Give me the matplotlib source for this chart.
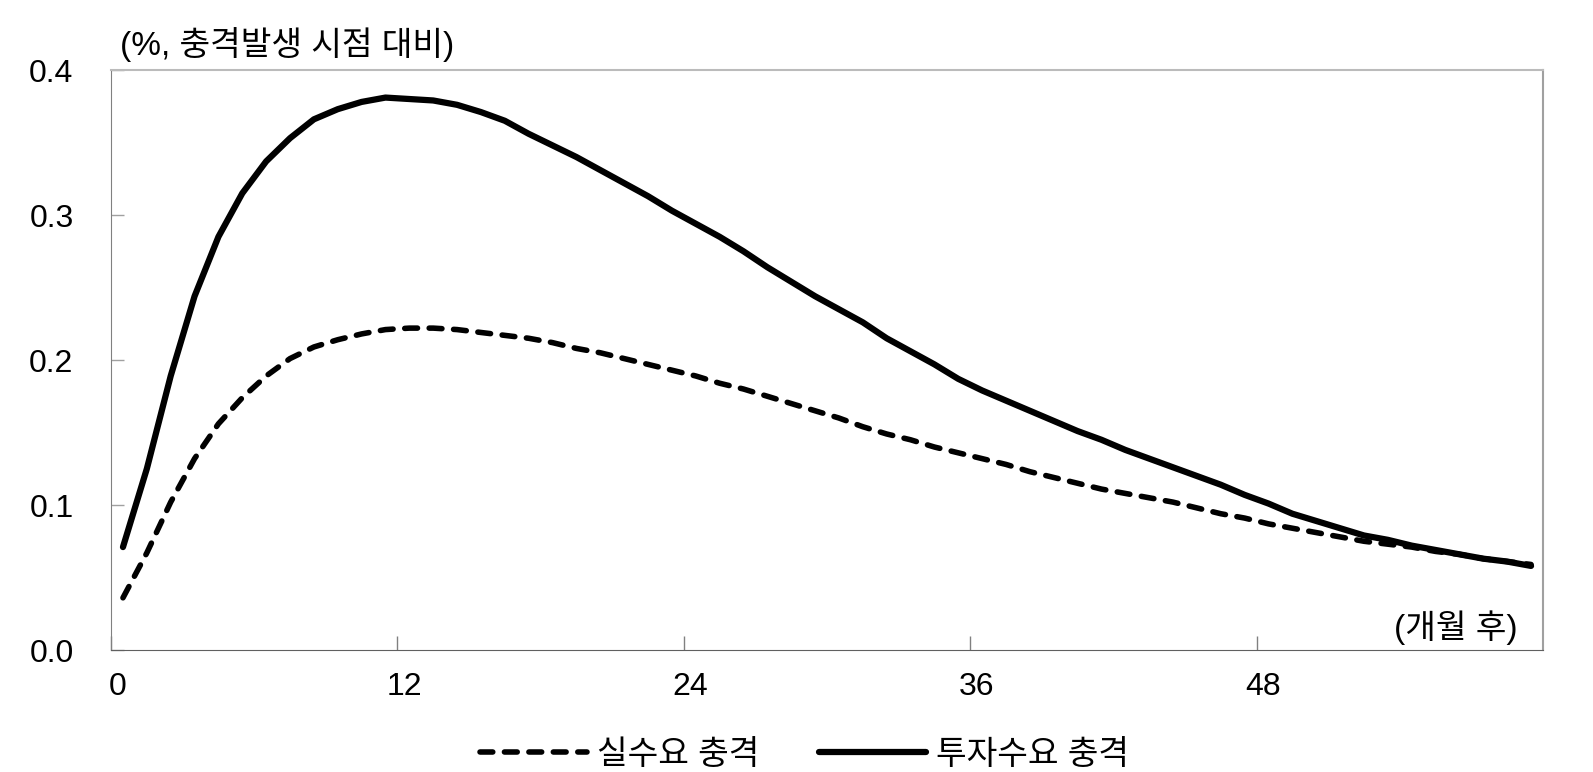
import numpy as np
import matplotlib
matplotlib.use("Agg")
import matplotlib.pyplot as plt
from matplotlib.ticker import FixedLocator, NullFormatter, FixedFormatter

plt.rcParams['font.family'] = ['Liberation Sans', 'Noto Sans CJK KR', 'DejaVu Sans']

# months after the shock (0..59)
months = np.arange(60)

# 실수요 충격 (dashed)
real_demand = [
    0.036, 0.067, 0.102, 0.132, 0.156, 0.174, 0.189, 0.201, 0.209, 0.214,
    0.218, 0.221, 0.222, 0.222, 0.221, 0.219, 0.217, 0.215, 0.212, 0.208,
    0.205, 0.201, 0.197, 0.193, 0.189, 0.184, 0.180, 0.175, 0.170, 0.165,
    0.160, 0.154, 0.149, 0.145, 0.140, 0.136, 0.132, 0.128, 0.123, 0.119,
    0.115, 0.111, 0.108, 0.105, 0.102, 0.098, 0.094, 0.091, 0.087, 0.084,
    0.081, 0.078, 0.075, 0.073, 0.071, 0.068, 0.066, 0.063, 0.061, 0.059,
]

# 투자수요 충격 (solid)
invest_demand = [
    0.071, 0.125, 0.189, 0.244, 0.285, 0.315, 0.337, 0.353, 0.366, 0.373,
    0.378, 0.381, 0.380, 0.379, 0.376, 0.371, 0.365, 0.356, 0.348, 0.340,
    0.331, 0.322, 0.313, 0.303, 0.294, 0.285, 0.275, 0.264, 0.254, 0.244,
    0.235, 0.226, 0.215, 0.206, 0.197, 0.187, 0.179, 0.172, 0.165, 0.158,
    0.151, 0.145, 0.138, 0.132, 0.126, 0.120, 0.114, 0.107, 0.101, 0.094,
    0.089, 0.084, 0.079, 0.076, 0.072, 0.069, 0.066, 0.063, 0.061, 0.058,
]

x_labels = ['0', '12', '24', '36', '48']
y_ticks = [0.0, 0.1, 0.2, 0.3, 0.4]

fig = plt.figure(figsize=(15.93, 7.72), dpi=100)
ax = fig.add_axes([0.0697, 0.158, 0.8989, 0.7513])

# categories are centred in their slot, like an Excel category axis
xpos = months + 0.5
ax.plot(xpos, invest_demand, color='black', lw=4.5, solid_capstyle='round',
        solid_joinstyle='round', label='투자수요 충격', zorder=3)
ax.plot(xpos, real_demand, color='black', lw=4.0, linestyle=(0, (2.3, 2.1)),
        dash_capstyle='round', label='실수요 충격', zorder=4)

ax.set_xlim(0, 60)
ax.set_ylim(0, 0.4)

# tick marks on category boundaries, labels near category centres
ax.xaxis.set_major_locator(FixedLocator([0, 12, 24, 36, 48]))
ax.xaxis.set_major_formatter(NullFormatter())
ax.xaxis.set_minor_locator(FixedLocator([0.28, 12.28, 24.28, 36.28, 48.28]))
ax.xaxis.set_minor_formatter(FixedFormatter(x_labels))
ax.tick_params(axis='x', which='major', direction='in', length=10, width=1, color='#808080')
ax.tick_params(axis='x', which='minor', length=0, pad=16, labelsize=23)

ax.set_yticks(y_ticks)
ax.set_yticklabels([f'{v:.1f}' for v in y_ticks])
ax.tick_params(axis='y', direction='in', length=9, width=1, color='#a0a0a0',
               pad=27, labelsize=23)

ax.spines['left'].set_color('#808080')
ax.spines['bottom'].set_color('#606060')
ax.spines['top'].set_color('#bbbbbb')
ax.spines['right'].set_color('#a0a0a0')
for s in ['top', 'right']:
    ax.spines[s].set_linewidth(1.5)

fig.text(0.0755, 0.942, '(%, 충격발생 시점 대비)', fontsize=24, va='center', ha='left')
ax.text(0.982, 0.038, '(개월 후)', transform=ax.transAxes, fontsize=24,
        ha='right', va='center')

handles, labels = ax.get_legend_handles_labels()
fig.legend(handles[::-1], labels[::-1], loc='center', bbox_to_anchor=(0.505, 0.022),
           ncol=2, frameon=False, fontsize=24, handlelength=3.2,
           handletextpad=0.3, columnspacing=1.8)

fig.savefig('out.png', dpi=100)
